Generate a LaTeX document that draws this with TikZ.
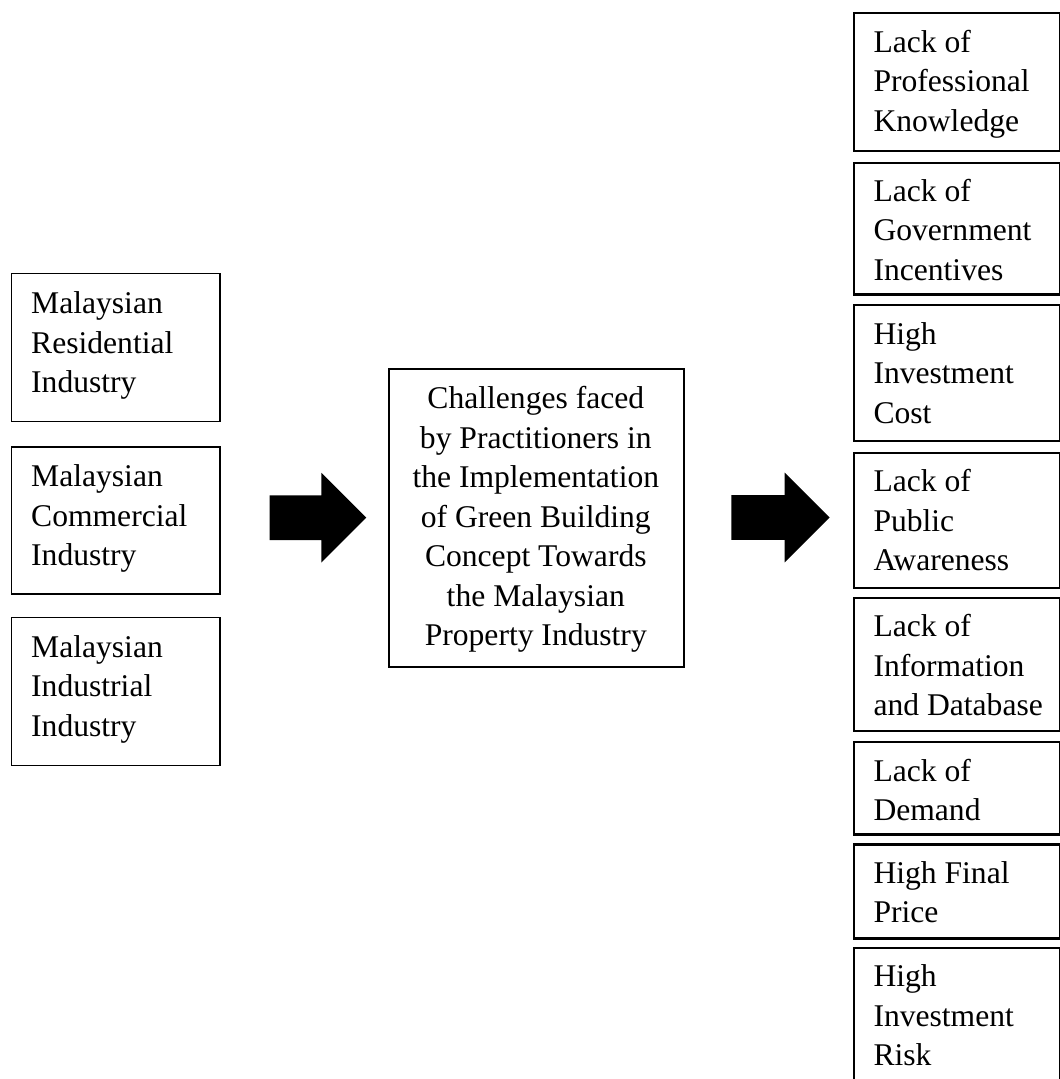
\documentclass[tikz,border=0pt]{standalone}
\usepackage{fontspec}
\setmainfont{Liberation Serif}
\usetikzlibrary{shapes.arrows}
\begin{document}
\begin{tikzpicture}[x=1pt,y=-1pt,
  txt/.style={inner sep=0pt, align=left, font=\fontsize{31.6}{39.5}\selectfont},
  ctxt/.style={inner sep=0pt, align=center, font=\fontsize{31.6}{39.5}\selectfont},
  box/.style={draw, line width=1.7pt, inner sep=0pt, anchor=north west},
  rbox/.style={draw, line width=2.2pt, inner sep=0pt, anchor=north west, minimum width=206.3pt},
  bigarrow/.style={single arrow, fill=black, draw=none, inner xsep=0pt, inner ysep=22.2pt,
    single arrow head extend=22.5pt, single arrow head indent=0pt}]
\useasboundingbox (0,0) rectangle (1060,1079);

% left column
\node[box, minimum width=208.3pt, minimum height=148pt] (l1) at (10.7,272.7) {};
\node[txt, anchor=north west] (l1t) at (31,291.4) {Malaysian\\Residential\\Industry};
\node[box, minimum width=208.3pt, minimum height=147pt] (l2) at (10.7,446) {};
\node[txt, anchor=north west] (l2t) at (31,464.4) {Malaysian\\Commercial\\Industry};
\node[box, minimum width=208.3pt, minimum height=148pt] (l3) at (10.7,616.7) {};
\node[txt, anchor=north west] (l3t) at (31,635.1) {Malaysian\\Industrial\\Industry};

% centre
\node[box, minimum width=295pt, minimum height=297.7pt] (c) at (388.3,368.3) {};
\node[ctxt, anchor=north] (ct) at (535.8,386.4) {Challenges faced\\by Practitioners in\\the Implementation\\of Green Building\\Concept Towards\\the Malaysian\\Property Industry};

% arrows
\node[bigarrow, minimum height=96.7pt] (a1) at (306.7,517.7) {};
\node[bigarrow, minimum height=98.3pt] (a2) at (769.2,517.5) {};

% right column
\node[rbox, minimum height=138.3pt] (r1) at (852.7,11.7) {};
\node[txt, anchor=north west] (r1t) at (873.3,29.6) {Lack of\\Professional\\Knowledge};
\node[rbox, minimum height=131.6pt] (r2) at (852.7,161.7) {};
\node[txt, anchor=north west] (r2t) at (873.3,178.6) {Lack of\\Government\\Incentives};
\node[rbox, minimum height=136pt] (r3) at (852.7,304) {};
\node[txt, anchor=north west] (r3t) at (873.3,321.9) {High\\Investment\\Cost};
\node[rbox, minimum height=135pt] (r4) at (852.7,451.7) {};
\node[txt, anchor=north west] (r4t) at (873.3,469.4) {Lack of\\Public\\Awareness};
\node[rbox, minimum height=133.3pt] (r5) at (852.7,596.7) {};
\node[txt, anchor=north west] (r5t) at (873.3,614.4) {Lack of\\Information\\and Database};
\node[rbox, minimum height=92.3pt] (r6) at (852.7,741) {};
\node[txt, anchor=north west] (r6t) at (873.3,758.6) {Lack of\\Demand};
\node[rbox, minimum height=94pt] (r7) at (852.7,843.3) {};
\node[txt, anchor=north west] (r7t) at (873.3,861.1) {High Final\\Price};
\node[rbox, minimum height=150pt] (r8) at (852.7,946.7) {};
\node[txt, anchor=north west] (r8t) at (873.3,964.6) {High\\Investment\\Risk};
\end{tikzpicture}
\end{document}
